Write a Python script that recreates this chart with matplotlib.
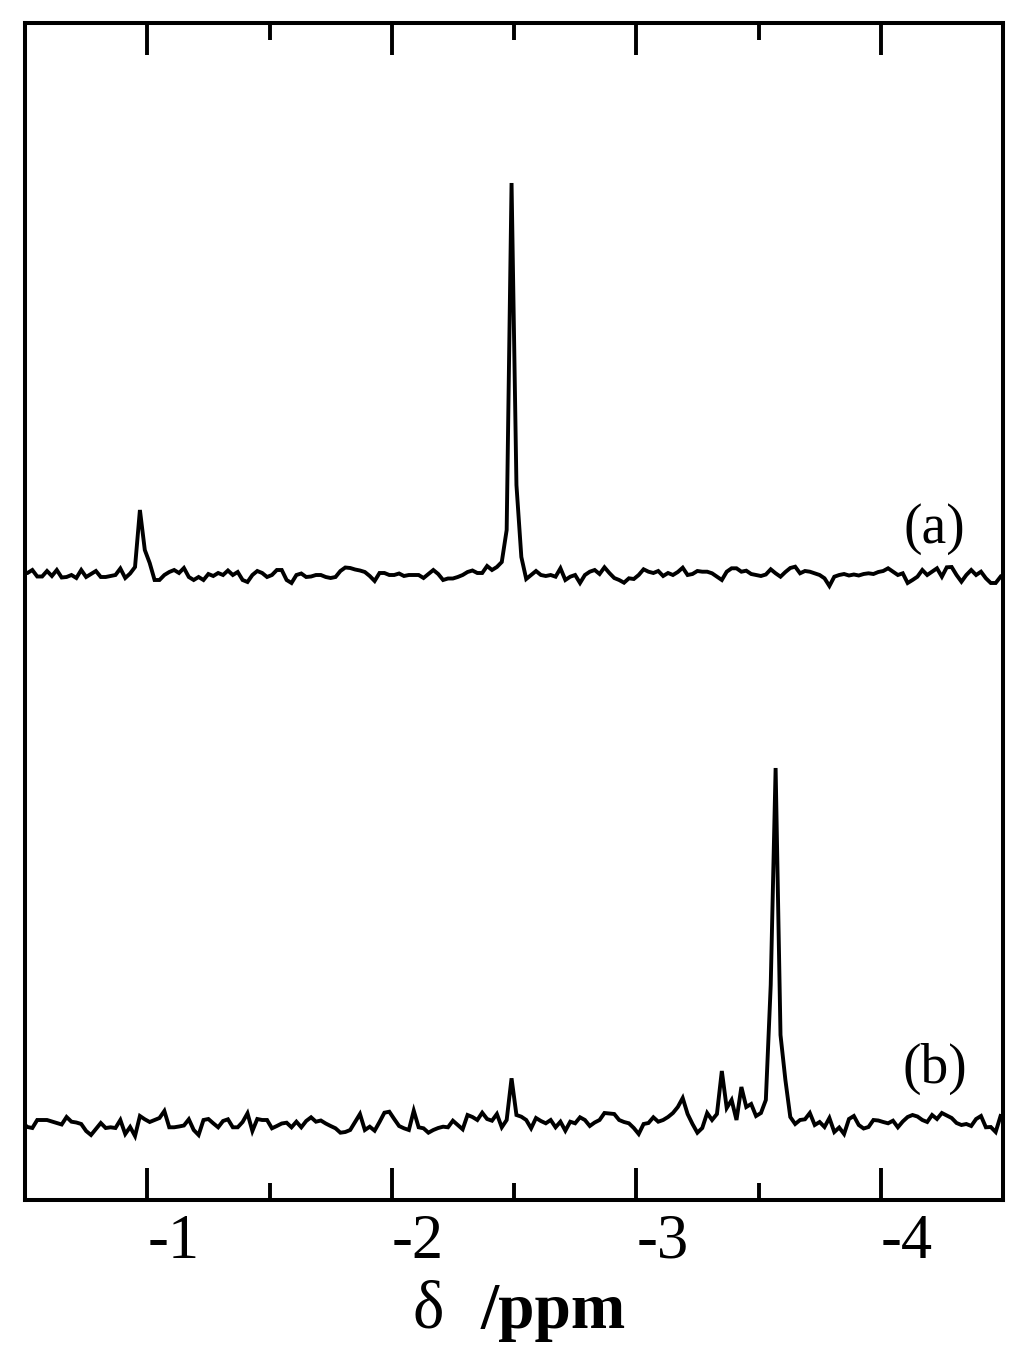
#!/usr/bin/env python3
"""
NMR spectra (a) and (b), stacked, delta axis in ppm
"""

import numpy as np
import matplotlib
matplotlib.use("Agg")
import matplotlib.pyplot as plt
from matplotlib.ticker import MultipleLocator

# chemical shift grid: first point, spacing, number of points
PPM_START = -0.49
PPM_STEP = -0.02
N_POINTS = 201

# intensities (arbitrary units, baseline = 0)
SPEC_A = [
    2, 2, 5, -1.5, -1.5, 4, -1, 5, -2.5, -2,
    0, -3, 5, -2, 1, 4, -2, -2, -1, 0,
    6.5, -3, 1.5, 8, 65, 25, 12, -5, -5, 0,
    3, 5, 2, 7, -2, -5, -2, -5, 1, -1,
    2, 0, 4.5, 0, 3, -5, -7, 0, 4, 2,
    -2, 0, 5, 5, -5, -8, 0, 1.5, -2, -1.5,
    0, 0, -2, -3, -2, 4, 7.5, 7, 5.5, 4.5,
    3, -1, -6, 2, 2, 0, 0, 1.5, -1, 0,
    0, 0, -3, 1, 5, 1, -5, -3.5, -3.5, -2,
    0, 3, 4.5, 2, 2, 9, 5, 8, 13, 45,
    392, 90, 18, -4, 0, 4, 0, -1, 0, -1.7,
    6.7, -5, -1.7, 0, -8, 0, 3.3, 5, 1, 7.7,
    2, -3, -5, -7.7, -3.3, -4, 0, 5.7, 3.3, 2,
    4, -1, 2, 0, 3, 7.3, 0, 1, 4, 3.3,
    3.3, 1.7, -1.7, -5, 3.3, 6.7, 6.7, 3.3, 4.3, 1,
    0, -1, 0.5, 5.7, 1.7, -1.7, 3, 7, 8.3, 1.7,
    4, 3.3, 1.7, 0, -3.3, -11, -1.7, 0, 1, -0.5,
    0.5, -0.5, 1, 1.7, 1, 3, 4, 6.7, 3.3, 0,
    1.7, -8, -5, -1.7, 5, 0, 3.3, 6.7, -1.7, 7.7,
    8, 0, -6.7, 0, 5, 0, 3.3, -3.3, -8, -8,
    -1.7,
]

SPEC_B = [
    2, -2, -3, 5, 5, 5, 3.5, 2, 0.5, 8,
    3.3, 2.5, 1, -6, -10, -4, 2, -3, -2.3, -3,
    5, -9, -2, -11, 9, 5.7, 3, 5, 7, 14,
    -2.3, -2.3, -1.5, -0.5, 5.7, -5, -10, 5, 6, 1.7,
    -2.3, 4, 5.7, -2.3, -2.3, 3, 11.7, -6, 6, 5,
    5, -3.3, -1, 1.5, 2.3, -2.3, 3.3, -2.3, 4, 7.7,
    3.3, 4.5, 1.5, -1, -3.3, -7.7, -7, -5, 3, 11,
    -5, -1.7, -5.7, 3, 12.3, 13.3, 6, -1, -3.3, -5,
    14.3, -2.3, -3.3, -7.7, -5, -3, -1.7, -2.3, 4.3, 0,
    -4.3, 10, 8, 5, 12.3, 6, 4.3, 11, -2.3, 5,
    46.7, 10, 8.3, 5, -3.3, 7, 4, 1.7, 5, -2.3,
    3.3, -5.7, 3.3, 1.7, 7.7, 5, -1, 2.5, 5, 12,
    11.5, 11, 5, 3, 1.7, -3, -9, 1, 2, 7.7,
    3.3, 5, 8, 12, 18, 27, 11, 1, -7.7, -3,
    12, 5, 11, 54, 17, 25, 5, 38, 18, 21,
    9, 12, 25, 140, 357, 90, 45, 8, 1, 5,
    5.7, 12, 0, 3, -2, 7, -7, -2.5, -9, 6,
    9, 0, -3.5, -2, 5, 4.5, 3, 1.7, 4.3, -2.3,
    3.5, 8, 10, 8.5, 5, 3, 10, 6, 12, 9.5,
    7, 2, 0, 1, -1, 6, 9, -2.3, -2, -7,
    9,
]

LABELS = ["(a)", "(b)"]
OFFSETS = [625, 75]          # vertical stacking of the two traces
LABEL_Y = [671, 131]
LABEL_X = -4.22

TICKS = [-1, -2, -3, -4]
TICK_LABELS = ["-1", "-2", "-3", "-4"]

SERIF = ["Liberation Serif", "DejaVu Serif"]


def main():
    ppm = PPM_START + PPM_STEP * np.arange(N_POINTS)

    fig = plt.figure(figsize=(10.24, 13.6), dpi=100)
    ax = fig.add_axes([25 / 1024, 1 - 1200 / 1360, 978 / 1024, 1177 / 1360])

    for spec, off, lab, ly in zip([SPEC_A, SPEC_B], OFFSETS, LABELS, LABEL_Y):
        ax.plot(ppm, np.array(spec) + off, color="black", lw=2.8,
                solid_joinstyle="miter")
        ax.text(LABEL_X, ly, lab, ha="center", va="center",
                fontsize=40, family=SERIF)

    ax.set_xlim(-0.5, -4.5)
    ax.set_ylim(0, 1177)

    ax.xaxis.set_minor_locator(MultipleLocator(0.5))
    ax.set_xticks(TICKS)
    ax.set_xticklabels(TICK_LABELS, family=SERIF, fontsize=45, ha="left")
    ax.tick_params(axis="x", which="major", direction="in", length=23,
                   width=2.8, top=True, pad=10)
    ax.tick_params(axis="x", which="minor", direction="in", length=12,
                   width=2.8, top=True)
    ax.set_yticks([])

    for s in ax.spines.values():
        s.set_linewidth(2.9)

    # axis title: regular delta, bold unit
    fig.text(428 / 1024, 1 - 1328 / 1360, "\u03b4", family=SERIF,
             fontsize=48, ha="center", va="baseline")
    fig.text(481 / 1024, 1 - 1328 / 1360, "/ppm", family=SERIF,
             fontsize=47, fontweight="bold", ha="left", va="baseline")

    fig.savefig("out.png", dpi=100)
    plt.close(fig)


if __name__ == "__main__":
    main()
